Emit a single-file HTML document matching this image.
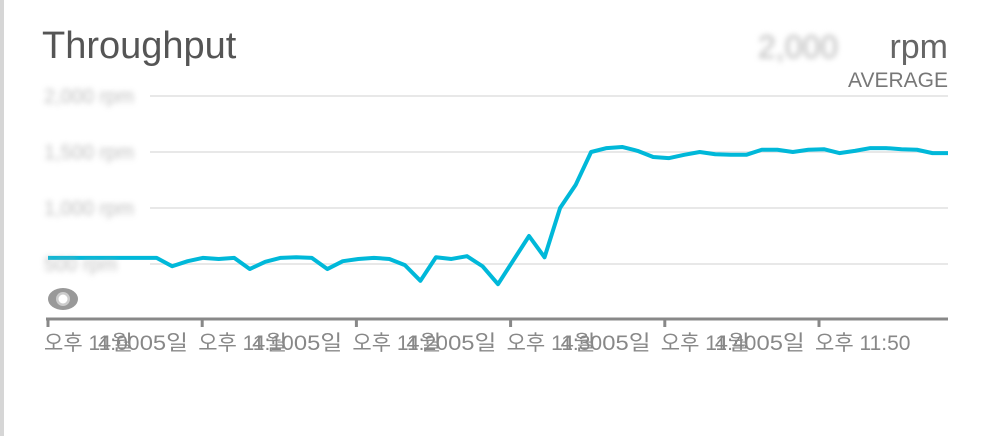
<!DOCTYPE html>
<html><head><meta charset="utf-8">
<style>
body{margin:0;width:990px;height:436px;background:#fff;overflow:hidden;font-family:"Liberation Sans","Noto Sans CJK KR",sans-serif;}
#wrap{position:relative;width:990px;height:436px;border-left:4px solid #d6d6d6;box-sizing:border-box;}
</style></head>
<body>
<div id="wrap">
<svg width="990" height="436" style="position:absolute;left:-4px;top:0">
  <text x="42" y="58" font-size="38" fill="#555">Throughput</text>
  <text x="758" y="58" font-size="32" fill="#b8b8b8" style="filter:blur(3px)">2,000</text>
  <text x="948" y="58" font-size="34" fill="#666" text-anchor="end">rpm</text>
  <text x="948" y="87" font-size="21" fill="#777" text-anchor="end">AVERAGE</text>
  <g id="grid"></g>
  <polyline id="line" fill="none" stroke="#00b8d9" stroke-width="4" stroke-linejoin="round"/>
  <g id="ylabels"></g>
  <line x1="46" y1="319" x2="948" y2="319" stroke="#888" stroke-width="3"/>
  <g id="xticks"></g>
  <g>
    <ellipse cx="63" cy="299" rx="15" ry="11" fill="#999"/>
    <circle cx="63" cy="299" r="7" fill="#ccc"/>
    <circle cx="63" cy="299" r="4.5" fill="#fff"/>
  </g>
</svg>
</div>
<script>
const yTicks=[1,2,3,4];
const yTickLabels=["500 rpm","1,000 rpm","1,500 rpm","2,000 rpm"];
const xTickLabels=["오후 11:00","오후 11:10","오후 11:20","오후 11:30","오후 11:40","오후 11:50"];
const xTickDates=["4월 05일","4월 05일","4월 05일","4월 05일","4월 05일",""];
const values=[1.11,1.11,1.11,1.11,1.11,1.11,1.11,
1.11,0.96,1.05,1.11,1.09,1.11,0.91,1.04,1.11,1.12,1.11,0.91,1.05,1.09,1.11,1.09,0.98,0.70,1.12,1.09,1.14,0.96,0.64,1.07,1.50,1.12,2.00,2.41,3.00,3.07,3.09,3.02,2.91,2.89,2.95,3.00,2.96,2.95,2.95,3.04,3.04,3.00,3.04,3.05,2.98,3.02,3.07,3.07,3.05,3.04,2.98,2.98];
const NS="http://www.w3.org/2000/svg";
const x0=48,x1=948,yZero=320,unit=56;
const xs=i=>x0+(x1-x0)*i/(values.length-1);
const ys=v=>yZero-v*unit;
const grid=document.getElementById('grid'),yl=document.getElementById('ylabels');
yTicks.forEach((t,i)=>{
  const l=document.createElementNS(NS,'line');
  l.setAttribute('x1',150);l.setAttribute('x2',948);l.setAttribute('y1',ys(t));l.setAttribute('y2',ys(t));
  l.setAttribute('stroke','#e8e8e8');l.setAttribute('stroke-width','2');
  
  
  grid.appendChild(l);
  const tx=document.createElementNS(NS,'text');
  tx.setAttribute('x',44);tx.setAttribute('y',ys(t)+7);tx.setAttribute('font-size','20');
  tx.setAttribute('fill','#aaa');tx.setAttribute('style','filter:blur(3px)');tx.setAttribute('opacity','0.75');
  tx.textContent=yTickLabels[i];
  
  
  yl.appendChild(tx);
});
document.getElementById('line').setAttribute('points',values.map((v,i)=>xs(i)+','+ys(v)).join(' '));
const xt=document.getElementById('xticks');
xTickLabels.forEach((s,i)=>{
  const x=48+154.2*i;
  const l=document.createElementNS(NS,'line');
  l.setAttribute('x1',x);l.setAttribute('x2',x);l.setAttribute('y1',319);l.setAttribute('y2',327);
  l.setAttribute('stroke','#888');l.setAttribute('stroke-width','3');
  
  
  xt.appendChild(l);
  const t=document.createElementNS(NS,'text');
  t.setAttribute('x',x-4);t.setAttribute('y',350);t.setAttribute('font-size','21');t.setAttribute('fill','#888');
  t.textContent=s;
  
  
  xt.appendChild(t);
  if(xTickDates[i]){
    const d=document.createElementNS(NS,'text');
    d.setAttribute('x',x+50);d.setAttribute('y',350);d.setAttribute('font-size','21');d.setAttribute('fill','#888');
    d.setAttribute('textLength','90');d.setAttribute('lengthAdjust','spacingAndGlyphs');
    d.textContent=xTickDates[i];
    
    
    xt.appendChild(d);
  }
});
</script>
</body></html>
